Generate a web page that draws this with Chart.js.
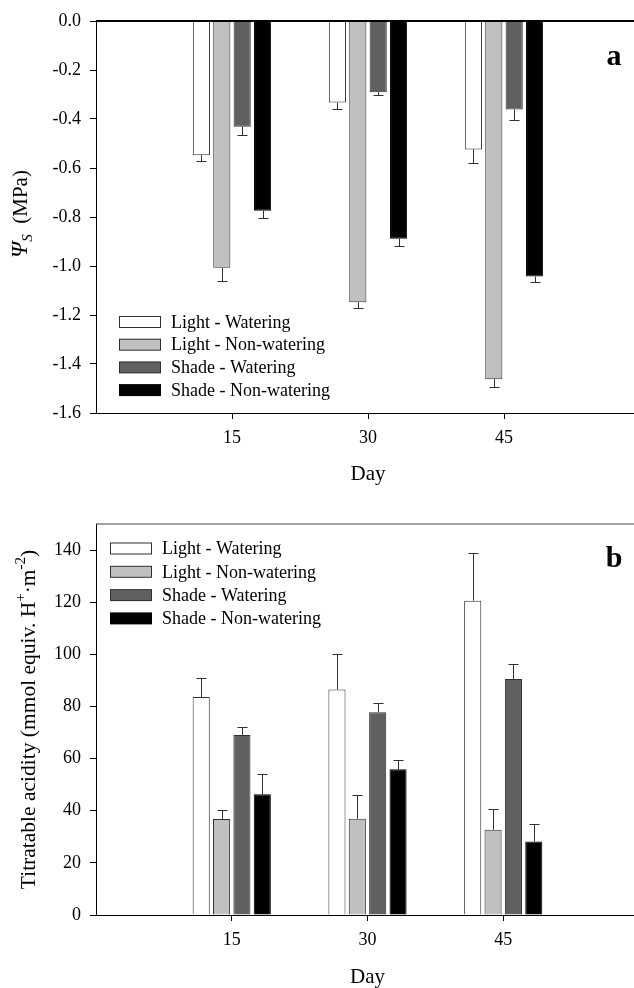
<!DOCTYPE html>
<html>
<head>
<meta charset="utf-8">
<script src="https://cdn.jsdelivr.net/npm/chart.js@4.4.0/dist/chart.umd.min.js"></script>
<style>
  html, body { margin: 0; padding: 0; background: #fff; overflow: hidden; }
  #wrap { position: relative; width: 634px; height: 988px; overflow: hidden; }
  .panel { position: absolute; left: 0; width: 645px; }
  #panelA { top: 0; height: 490px; }
  #panelB { top: 490px; height: 498px; }
</style>
</head>
<body>
<div id="wrap">
  <div class="panel" id="panelA"><canvas id="chartA"></canvas></div>
  <div class="panel" id="panelB"><canvas id="chartB"></canvas></div>
</div>
<script>
// sampling days and treatments
const days = [15, 30, 45];
const treatments = ["Light - Watering", "Light - Non-watering", "Shade - Watering", "Shade - Non-watering"];

// osmotic potential (MPa)
const psiLightWater = [-0.548, -0.333, -0.524];
const psiLightDry = [-1.007, -1.148, -1.462];
const psiShadeWater = [-0.432, -0.291, -0.361];
const psiShadeDry = [-0.774, -0.889, -1.043];
// standard errors
const psiLightWaterSe = [0.024, 0.026, 0.055];
const psiLightDrySe = [0.054, 0.023, 0.033];
const psiShadeWaterSe = [0.034, 0.013, 0.044];
const psiShadeDrySe = [0.032, 0.031, 0.022];

// titratable acidity (mmol equiv. H+ m-2)
const acidLightWater = [83.6, 86.5, 120.6];
const acidLightDry = [36.8, 36.9, 32.7];
const acidShadeWater = [69.1, 77.8, 90.5];
const acidShadeDry = [46.3, 55.9, 28.2];
const acidLightWaterSe = [7.2, 13.5, 18.4];
const acidLightDrySe = [3.3, 9.0, 8.1];
const acidShadeWaterSe = [3.2, 3.6, 5.8];
const acidShadeDrySe = [7.9, 3.7, 6.8];

// tick labels
const psiTicks = [0, -0.2, -0.4, -0.6, -0.8, -1.0, -1.2, -1.4, -1.6];
const acidTicks = [0, 20, 40, 60, 80, 100, 120, 140];

const serif = "'Liberation Serif', 'Times New Roman', serif";
const fills = ["#ffffff", "#c0c0c0", "#606060", "#000000"];
const edges = ["#303030", "#303030", "#303030", "#000000"];

function toPoints(vals) {
  return days.map((d, i) => ({ x: d, y: vals[i] }));
}

function makeDatasets(series, errs) {
  return series.map((vals, k) => ({
    label: treatments[k],
    data: toPoints(vals),
    errors: errs[k],
    backgroundColor: fills[k],
    borderColor: edges[k],
    borderWidth: 1,
    categoryPercentage: 0.6,
    barPercentage: 0.84
  }));
}

// one-sided error bars with a cap
const errorBars = {
  id: "errorBars",
  afterDatasetsDraw(chart) {
    const ctx = chart.ctx;
    const y = chart.scales.y;
    ctx.save();
    ctx.strokeStyle = "#303030";
    ctx.lineWidth = 1;
    chart.data.datasets.forEach((ds, i) => {
      chart.getDatasetMeta(i).data.forEach((bar, j) => {
        const v = ds.data[j].y;
        const e = ds.errors[j];
        const end = Math.round(y.getPixelForValue(v < 0 ? v - e : v + e)) + 0.5;
        const x = Math.round(bar.x) + 0.5;
        ctx.beginPath();
        ctx.moveTo(x, bar.y);
        ctx.lineTo(x, end);
        ctx.moveTo(x - 5, end);
        ctx.lineTo(x + 5, end);
        ctx.stroke();
      });
    });
    ctx.restore();
  }
};

// legend boxes inside the plot, top line, titles and panel letter
const decorations = {
  id: "decorations",
  afterDraw(chart, args, o) {
    const ctx = chart.ctx;
    const area = chart.chartArea;
    ctx.save();

    // top frame line
    ctx.strokeStyle = o.frameColor;
    ctx.lineWidth = o.frameWidth;
    ctx.beginPath();
    ctx.moveTo(area.left, area.top);
    ctx.lineTo(area.right, area.top);
    ctx.stroke();

    // legend
    ctx.font = "18px " + serif;
    ctx.textBaseline = "middle";
    ctx.textAlign = "left";
    chart.data.datasets.forEach((ds, k) => {
      const cy = o.legendY + k * o.legendGap;
      ctx.fillStyle = ds.borderColor;
      ctx.fillRect(o.legendX, cy - 6, 42, 12);
      ctx.fillStyle = ds.backgroundColor;
      ctx.fillRect(o.legendX + 1, cy - 5, 40, 10);
      ctx.fillStyle = "#000";
      ctx.fillText(ds.label, o.legendX + 52, cy + 1);
    });

    // x title
    ctx.font = "21px " + serif;
    ctx.textAlign = "center";
    ctx.textBaseline = "middle";
    ctx.fillText("Day", (area.left + area.right) / 2, o.xTitleY);

    // panel letter
    ctx.font = "bold 30px " + serif;
    ctx.textBaseline = "alphabetic";
    ctx.fillText(o.letter, 614, o.letterY);

    // rotated y title made of runs (sub/superscripts)
    const runs = o.yTitle;
    let total = 0;
    runs.forEach(r => { ctx.font = r.font; r.w = ctx.measureText(r.text).width; total += r.w; });
    ctx.translate(o.yTitleX, (area.top + area.bottom) / 2 + o.yTitleShift);
    ctx.rotate(-Math.PI / 2);
    ctx.textAlign = "left";
    let pos = -total / 2;
    runs.forEach(r => {
      ctx.font = r.font;
      ctx.fillText(r.text, pos, r.dy || 0);
      pos += r.w;
    });
    ctx.restore();
  }
};

function makePanel(id, cfg) {
  return new Chart(document.getElementById(id), {
    type: "bar",
    data: { datasets: makeDatasets(cfg.series, cfg.errs) },
    options: {
      responsive: true,
      maintainAspectRatio: false,
      animation: false,
      devicePixelRatio: 1,
      layout: { padding: { top: cfg.top, right: cfg.right, left: 0, bottom: 0 } },
      plugins: {
        legend: { display: false },
        tooltip: { enabled: false },
        decorations: cfg.deco
      },
      scales: {
        x: {
          type: "linear",
          min: 0,
          max: 60,
          offset: false,
          afterBuildTicks: s => { s.ticks = days.map(v => ({ value: v })); },
          afterFit: s => { s.height = cfg.xHeight; },
          grid: { offset: false, drawOnChartArea: false, drawTicks: true, tickLength: 6, color: "#000", tickColor: "#000" },
          border: { color: "#000", width: 1 },
          ticks: { color: "#000", font: { family: serif, size: 18 }, padding: 8, maxRotation: 0, callback: v => String(v) }
        },
        y: {
          min: cfg.yMin,
          max: cfg.yMax,
          afterBuildTicks: s => { s.ticks = cfg.yTicks.map(v => ({ value: v })); },
          afterFit: s => { s.width = 96; },
          grid: { drawOnChartArea: false, drawTicks: true, tickLength: 6, color: "#000", tickColor: "#000" },
          border: { color: "#000", width: 1 },
          ticks: { color: "#000", font: { family: serif, size: 18 }, padding: 9, callback: cfg.fmt }
        }
      }
    },
    plugins: [errorBars, decorations]
  });
}

makePanel("chartA", {
  series: [psiLightWater, psiLightDry, psiShadeWater, psiShadeDry],
  errs: [psiLightWaterSe, psiLightDrySe, psiShadeWaterSe, psiShadeDrySe],
  yMin: -1.6, yMax: 0, yTicks: psiTicks,
  fmt: v => v.toFixed(1),
  top: 21, right: 5, xHeight: 77,
  deco: {
    frameColor: "#000", frameWidth: 2,
    legendX: 119, legendY: 322, legendGap: 22.7,
    xTitleY: 474, letter: "a", letterY: 65,
    yTitleX: 27, yTitleShift: -3,
    yTitle: [
      { text: "\u03A8", font: "italic 23px " + serif },
      { text: "S", font: "italic 15px " + serif, dy: 5 },
      { text: "  (MPa)", font: "21px " + serif }
    ]
  }
});

makePanel("chartB", {
  series: [acidLightWater, acidLightDry, acidShadeWater, acidShadeDry],
  errs: [acidLightWaterSe, acidLightDrySe, acidShadeWaterSe, acidShadeDrySe],
  yMin: 0, yMax: 150, yTicks: acidTicks,
  fmt: v => String(v),
  top: 34, right: 6, xHeight: 73,
  deco: {
    frameColor: "#444", frameWidth: 1,
    legendX: 110, legendY: 58.5, legendGap: 23.3,
    xTitleY: 487, letter: "b", letterY: 77,
    yTitleX: 35, yTitleShift: 0,
    yTitle: [
      { text: "Titratable acidity (mmol equiv. H", font: "21.5px " + serif },
      { text: "+", font: "15px " + serif, dy: -10 },
      { text: "\u00B7m", font: "21.5px " + serif },
      { text: "-2", font: "15px " + serif, dy: -10 },
      { text: ")", font: "21.5px " + serif }
    ]
  }
});
</script>
</body>
</html>
